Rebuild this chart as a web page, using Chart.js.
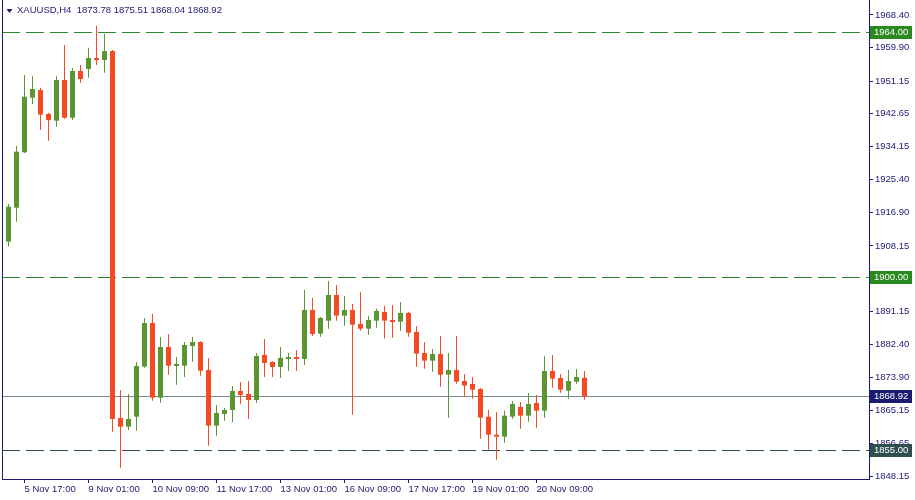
<!DOCTYPE html>
<html><head><meta charset="utf-8">
<script src="https://cdn.jsdelivr.net/npm/chart.js@4.4.1/dist/chart.umd.min.js"></script>
<style>html,body{margin:0;padding:0;background:#fff;overflow:hidden}canvas{display:block}</style>
</head><body>
<canvas id="c" width="915" height="500"></canvas>
<script>
const symbol = 'XAUUSD,H4';
const categories = [
 '5 Nov 09:00','5 Nov 13:00','5 Nov 17:00','5 Nov 21:00',
 '6 Nov 01:00','6 Nov 05:00','6 Nov 09:00','6 Nov 13:00','6 Nov 17:00','6 Nov 21:00',
 '9 Nov 01:00','9 Nov 05:00','9 Nov 09:00','9 Nov 13:00','9 Nov 17:00','9 Nov 21:00',
 '10 Nov 01:00','10 Nov 05:00','10 Nov 09:00','10 Nov 13:00','10 Nov 17:00','10 Nov 21:00',
 '11 Nov 01:00','11 Nov 05:00','11 Nov 09:00','11 Nov 13:00','11 Nov 17:00','11 Nov 21:00',
 '12 Nov 01:00','12 Nov 05:00','12 Nov 09:00','12 Nov 13:00','12 Nov 17:00','12 Nov 21:00',
 '13 Nov 01:00','13 Nov 05:00','13 Nov 09:00','13 Nov 13:00','13 Nov 17:00','13 Nov 21:00',
 '16 Nov 01:00','16 Nov 05:00','16 Nov 09:00','16 Nov 13:00','16 Nov 17:00','16 Nov 21:00',
 '17 Nov 01:00','17 Nov 05:00','17 Nov 09:00','17 Nov 13:00','17 Nov 17:00','17 Nov 21:00',
 '18 Nov 01:00','18 Nov 05:00','18 Nov 09:00','18 Nov 13:00','18 Nov 17:00','18 Nov 21:00',
 '19 Nov 01:00','19 Nov 05:00','19 Nov 09:00','19 Nov 13:00','19 Nov 17:00','19 Nov 21:00',
 '20 Nov 01:00','20 Nov 05:00','20 Nov 09:00','20 Nov 13:00','20 Nov 17:00','20 Nov 21:00',
 '23 Nov 01:00','23 Nov 05:00','23 Nov 09:00'
];
const opens = [1909.27,1918.14,1932.59,1946.83,1948.84,1942.58,1940.83,1951.45,1941.61,1953.79,
 1954.32,1957.18,1956.66,1958.99,1863.29,1861.02,1863.63,1876.67,1888.07,1868.58,
 1881.81,1876.85,1876.93,1882.07,1883.11,1875.81,1861.28,1864.33,1865.38,1870.33,
 1869.55,1867.98,1879.72,1877.90,1876.59,1878.68,1879.20,1878.68,1891.46,1885.28,
 1888.67,1895.37,1889.97,1891.46,1887.81,1886.58,1888.67,1890.94,1888.85,1888.41,
 1890.68,1885.72,1880.24,1878.24,1879.98,1874.58,1875.81,1872.94,1872.16,1870.85,
 1863.63,1858.93,1858.41,1863.63,1866.16,1863.89,1867.20,1865.20,1875.55,1873.72,
 1870.41,1872.76,1873.78];
const highs = [1919.10,1934.23,1952.75,1952.49,1949.44,1942.92,1952.49,1960.58,1954.65,1955.36,
 1959.87,1965.61,1963.44,1959.30,1870.59,1869.55,1877.90,1889.37,1890.42,1884.42,
 1885.20,1879.20,1883.11,1884.42,1883.30,1878.94,1866.68,1865.90,1871.64,1872.68,
 1872.94,1880.24,1883.89,1878.10,1881.81,1880.24,1881.03,1896.67,1894.59,1889.60,
 1898.99,1897.95,1895.11,1893.02,1896.15,1889.89,1891.80,1892.50,1892.76,1893.55,
 1891.00,1887.29,1883.11,1881.29,1884.68,1880.24,1884.68,1874.76,1873.98,1871.10,
 1865.38,1864.85,1865.20,1867.72,1867.46,1869.81,1869.29,1879.46,1879.72,1874.76,
 1875.81,1876.07,1875.51];
const lows = [1907.97,1914.49,1932.40,1945.19,1938.41,1935.61,1939.27,1941.35,1941.00,1950.74,
 1952.05,1955.36,1953.35,1859.72,1850.33,1860.16,1859.98,1876.41,1867.80,1867.28,
 1874.58,1871.98,1873.98,1877.90,1874.32,1856.07,1858.67,1862.59,1862.25,1866.94,
 1863.03,1867.20,1873.98,1873.98,1873.72,1875.55,1875.55,1877.11,1884.68,1884.50,
 1886.58,1888.67,1887.36,1864.15,1886.06,1885.02,1886.84,1884.00,1884.24,1886.06,
 1884.50,1876.67,1876.15,1875.37,1871.46,1863.37,1872.24,1868.85,1868.33,1857.89,
 1855.02,1852.41,1856.85,1863.11,1860.50,1862.33,1860.76,1863.37,1871.20,1869.89,
 1868.33,1872.24,1868.04];
const closes = [1918.40,1932.75,1947.09,1949.10,1942.40,1940.97,1951.45,1941.61,1953.79,1951.71,
 1957.18,1956.66,1958.99,1863.03,1861.02,1863.03,1876.85,1888.07,1868.58,1881.81,
 1876.93,1877.37,1882.33,1883.11,1875.63,1861.28,1864.59,1865.38,1870.33,1869.29,
 1867.98,1879.46,1877.63,1876.59,1878.94,1879.20,1878.68,1891.46,1885.20,1889.37,
 1895.37,1889.97,1891.46,1887.62,1886.58,1888.85,1891.20,1888.67,1888.33,1890.68,
 1885.54,1880.06,1878.24,1879.98,1874.58,1875.81,1872.76,1871.72,1870.67,1863.37,
 1858.93,1858.41,1863.89,1866.94,1863.89,1866.94,1865.20,1875.55,1873.54,1870.67,
 1872.94,1873.98,1868.92];
const yTicks = [1968.40,1959.90,1951.15,1942.65,1934.15,1925.40,1916.90,1908.15,1899.65,
 1891.15,1882.40,1873.90,1865.15,1856.65,1848.15];
const xTickIndices = [2,10,18,26,34,42,50,58,66];
const levelValues = [1964.00, 1900.00, 1855.00];

// ---- styles ----
const GREEN = '#5a9632', RED = '#f44b24';
const AXIS = '#1b1b72';
const FONT = 'Liberation Sans';
const FS = 9.5;
const levelStyles = [
  {line:'#2d8a2d', box:'#2a8a1f'},
  {line:'#2d8a2d', box:'#2a8a1f'},
  {line:'#2f4f4f', box:'#2f4f4f'}
];
const PRICE_LINE = '#778899', PRICE_BOX = '#1b1b72';

const colors = opens.map((o,i)=> closes[i] >= o ? GREEN : RED);
const bodies = opens.map((o,i)=>({x:i, y:[o, closes[i]]}));
const wicks = lows.map((l,i)=>({x:i, y:[l, highs[i]]}));

const overlay = {
  id:'overlay',
  beforeDatasetsDraw(chart){
    const {ctx, chartArea:a, scales:{y}} = chart;
    ctx.save();
    ctx.beginPath(); ctx.rect(a.left, a.top, a.right-a.left, a.bottom-a.top); ctx.clip();
    ctx.lineWidth = 1;
    levelValues.forEach((v,k)=>{
      const py = Math.round(y.getPixelForValue(v)) + 0.5;
      ctx.strokeStyle = levelStyles[k].line;
      ctx.setLineDash([18,6]);
      ctx.beginPath(); ctx.moveTo(a.left, py); ctx.lineTo(a.right, py); ctx.stroke();
    });
    ctx.setLineDash([]);
    const last = closes[closes.length-1];
    const pp = Math.round(y.getPixelForValue(last)) + 0.5;
    ctx.strokeStyle = PRICE_LINE;
    ctx.beginPath(); ctx.moveTo(a.left, pp); ctx.lineTo(a.right, pp); ctx.stroke();
    ctx.restore();
    ctx.save();
    ctx.strokeStyle = AXIS; ctx.lineWidth = 1;
    ctx.beginPath(); ctx.moveTo(a.left+0.5, a.top); ctx.lineTo(a.left+0.5, a.bottom+1); ctx.stroke();
    ctx.restore();
  },
  afterDraw(chart){
    const {ctx, chartArea:a, scales:{y}} = chart;
    ctx.save();
    ctx.font = FS + 'px "' + FONT + '"';
    ctx.textBaseline = 'middle';
    ctx.textAlign = 'left';
    const box = (v, col) => {
      const py = Math.round(y.getPixelForValue(v));
      ctx.fillStyle = col;
      ctx.fillRect(a.right+1, py-6, 42, 13);
      ctx.fillStyle = '#ffffff';
      ctx.fillText(v.toFixed(2), a.right+5, py+0.5);
    };
    levelValues.forEach((v,k)=> box(v, levelStyles[k].box));
    box(closes[closes.length-1], PRICE_BOX);
    ctx.fillStyle = AXIS;
    ctx.beginPath(); ctx.moveTo(6.5,9); ctx.lineTo(12.5,9); ctx.lineTo(9.5,13); ctx.closePath(); ctx.fill();
    const n = opens.length-1;
    const txt = symbol + '  ' + [opens[n],highs[n],lows[n],closes[n]].map(v=>v.toFixed(2)).join(' ');
    ctx.fillText(txt, 17, 10.5);
    ctx.restore();
  }
};

new Chart(document.getElementById('c'), {
  type:'bar',
  data:{datasets:[
    {data:wicks, backgroundColor:colors, barThickness:1, grouped:false, order:2, inflateAmount:0, borderWidth:0},
    {data:bodies, backgroundColor:colors, barThickness:5, grouped:false, order:1, inflateAmount:0, borderWidth:0}
  ]},
  options:{
    responsive:false, animation:false, devicePixelRatio:1,
    layout:{padding:{left:2,top:0,right:0,bottom:0}},
    plugins:{legend:{display:false}, tooltip:{enabled:false}, title:{display:false}},
    scales:{
      x:{type:'linear', min:-0.8125, max:107.5625, offset:false,
        afterBuildTicks: s=>{ s.ticks = xTickIndices.map(v=>({value:v})); },
        afterFit: s=>{ s.height = 21; s.paddingLeft = 0; s.paddingRight = 0; },
        grid:{drawOnChartArea:false, drawTicks:true, tickLength:4, color:AXIS, offset:false},
        border:{display:true, color:AXIS, width:1},
        ticks:{autoSkip:false, maxRotation:0, minRotation:0, align:'start', padding:1, color:AXIS,
          font:{family:FONT, size:FS}, callback:(v)=>categories[v]}
      },
      y:{type:'linear', position:'right', min:1847.37, max:1972.31,
        afterBuildTicks: s=>{ s.ticks = yTicks.map(v=>({value:v})); },
        afterFit: s=>{ s.width = 46; s.paddingTop = 0; s.paddingBottom = 0; },
        grid:{drawOnChartArea:false, drawTicks:true, tickLength:4, color:AXIS},
        border:{display:true, color:AXIS, width:1},
        ticks:{padding:2, color:AXIS, font:{family:FONT, size:FS}, callback:v=>Number(v).toFixed(2)}
      }
    }
  },
  plugins:[overlay]
});
</script>
</body></html>
